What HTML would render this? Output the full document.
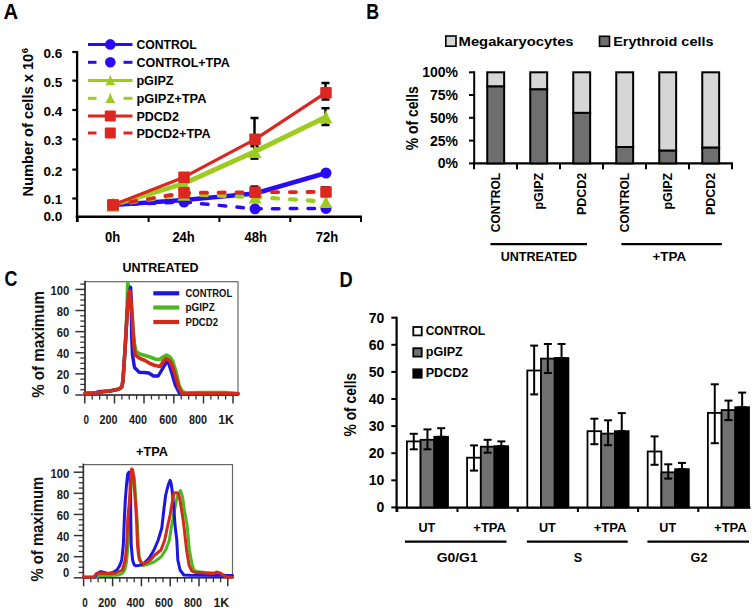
<!DOCTYPE html>
<html><head><meta charset="utf-8"><style>
html,body{margin:0;padding:0;background:#fff;width:754px;height:611px;overflow:hidden}
svg{display:block;font-family:"Liberation Sans", sans-serif}
</style></head><body>
<svg width="754" height="611" viewBox="0 0 754 611">
<rect width="754" height="611" fill="#fff"/>
<text x="3.6" y="18.6" font-size="21.8" font-weight="bold" fill="#000" text-anchor="start" textLength="14.6" lengthAdjust="spacingAndGlyphs" >A</text>
<text x="366.3" y="18.7" font-size="21.8" font-weight="bold" fill="#000" text-anchor="start" textLength="12.8" lengthAdjust="spacingAndGlyphs" >B</text>
<text x="4.4" y="286.4" font-size="21.8" font-weight="bold" fill="#000" text-anchor="start" textLength="12.9" lengthAdjust="spacingAndGlyphs" >C</text>
<text x="339.6" y="286.6" font-size="21.8" font-weight="bold" fill="#000" text-anchor="start" textLength="13.2" lengthAdjust="spacingAndGlyphs" >D</text>
<line x1="77.1" y1="51" x2="77.1" y2="222" stroke="#000" stroke-width="2.3" />
<line x1="75.7" y1="216.7" x2="362" y2="216.7" stroke="#000" stroke-width="2.4" />
<line x1="72.3" y1="52" x2="77.5" y2="52" stroke="#000" stroke-width="2.2" />
<line x1="72.3" y1="80.6" x2="77.5" y2="80.6" stroke="#000" stroke-width="2.2" />
<line x1="72.3" y1="110" x2="77.5" y2="110" stroke="#000" stroke-width="2.2" />
<line x1="72.3" y1="139.3" x2="77.5" y2="139.3" stroke="#000" stroke-width="2.2" />
<line x1="72.3" y1="169.6" x2="77.5" y2="169.6" stroke="#000" stroke-width="2.2" />
<line x1="72.3" y1="198.5" x2="77.5" y2="198.5" stroke="#000" stroke-width="2.2" />
<line x1="77.6" y1="216" x2="77.6" y2="222" stroke="#000" stroke-width="2" />
<line x1="148.6" y1="216" x2="148.6" y2="222" stroke="#000" stroke-width="2" />
<line x1="219.4" y1="216" x2="219.4" y2="222" stroke="#000" stroke-width="2" />
<line x1="290.3" y1="216" x2="290.3" y2="222" stroke="#000" stroke-width="2" />
<line x1="361" y1="216" x2="361" y2="222" stroke="#000" stroke-width="2" />
<text x="62.4" y="58.2" font-size="13.6" font-weight="bold" fill="#000" text-anchor="end" textLength="18.8" lengthAdjust="spacingAndGlyphs" >0.6</text>
<text x="62.4" y="86.60000000000001" font-size="13.6" font-weight="bold" fill="#000" text-anchor="end" textLength="18.8" lengthAdjust="spacingAndGlyphs" >0.5</text>
<text x="62.4" y="116.0" font-size="13.6" font-weight="bold" fill="#000" text-anchor="end" textLength="18.8" lengthAdjust="spacingAndGlyphs" >0.4</text>
<text x="62.4" y="145.39999999999998" font-size="13.6" font-weight="bold" fill="#000" text-anchor="end" textLength="18.8" lengthAdjust="spacingAndGlyphs" >0.3</text>
<text x="62.4" y="175.79999999999998" font-size="13.6" font-weight="bold" fill="#000" text-anchor="end" textLength="18.8" lengthAdjust="spacingAndGlyphs" >0.2</text>
<text x="62.4" y="204.0" font-size="13.6" font-weight="bold" fill="#000" text-anchor="end" textLength="18.8" lengthAdjust="spacingAndGlyphs" >0.1</text>
<text x="62.4" y="221.2" font-size="13.6" font-weight="bold" fill="#000" text-anchor="end" textLength="18.8" lengthAdjust="spacingAndGlyphs" >0.0</text>
<text x="112.5" y="241.7" font-size="14" font-weight="bold" fill="#000" text-anchor="middle" textLength="15.2" lengthAdjust="spacingAndGlyphs" >0h</text>
<text x="183.6" y="241.7" font-size="14" font-weight="bold" fill="#000" text-anchor="middle" textLength="22.4" lengthAdjust="spacingAndGlyphs" >24h</text>
<text x="255.7" y="241.7" font-size="14" font-weight="bold" fill="#000" text-anchor="middle" textLength="22.4" lengthAdjust="spacingAndGlyphs" >48h</text>
<text x="327" y="241.7" font-size="14" font-weight="bold" fill="#000" text-anchor="middle" textLength="22.4" lengthAdjust="spacingAndGlyphs" >72h</text>
<text x="33.4" y="196.5" font-size="15.3" font-weight="bold" transform="rotate(-90 33.4 196.5)" textLength="142.8" lengthAdjust="spacingAndGlyphs">Number of cells x 10</text>
<text x="28.3" y="53.2" font-size="9.5" font-weight="bold" fill="#000" text-anchor="start" transform="rotate(-90 28.3 53.2)" >6</text>
<polyline points="113.0,205.0 184.0,200.0 255.0,193.5 326.0,173.0" fill="none" stroke="#2a0cf4" stroke-width="4.6" stroke-linejoin="round" stroke-linecap="round" />
<circle cx="113" cy="205" r="5.5" fill="#2a0cf4"/>
<circle cx="184" cy="200" r="5.5" fill="#2a0cf4"/>
<circle cx="255" cy="193.5" r="5.5" fill="#2a0cf4"/>
<circle cx="326" cy="173" r="5.5" fill="#2a0cf4"/>
<polyline points="113.0,205.0 184.0,183.5 255.0,151.5 326.0,117.0" fill="none" stroke="#9dcb1e" stroke-width="4.8" stroke-linejoin="round" stroke-linecap="round" />
<line x1="254.5" y1="146.2" x2="254.5" y2="158.6" stroke="#000" stroke-width="2.5" />
<line x1="250.5" y1="146.2" x2="258.5" y2="146.2" stroke="#000" stroke-width="2.5" />
<line x1="250.5" y1="158.6" x2="258.5" y2="158.6" stroke="#000" stroke-width="2.5" />
<line x1="325.5" y1="108.2" x2="325.5" y2="125" stroke="#000" stroke-width="2.5" />
<line x1="321.5" y1="108.2" x2="329.5" y2="108.2" stroke="#000" stroke-width="2.5" />
<line x1="321.5" y1="125" x2="329.5" y2="125" stroke="#000" stroke-width="2.5" />
<path d="M113,197.5875 Q115.7,206.2825 119.75,211.4125 L106.25,211.4125 Q110.3,206.2825 113,197.5875Z" fill="#9dcb1e"/>
<path d="M184,176.0875 Q186.7,184.7825 190.75,189.9125 L177.25,189.9125 Q181.3,184.7825 184,176.0875Z" fill="#9dcb1e"/>
<path d="M255,144.0875 Q257.7,152.7825 261.75,157.9125 L248.25,157.9125 Q252.3,152.7825 255,144.0875Z" fill="#9dcb1e"/>
<path d="M326,109.5875 Q328.7,118.2825 332.75,123.4125 L319.25,123.4125 Q323.3,118.2825 326,109.5875Z" fill="#9dcb1e"/>
<polyline points="113.0,205.0 184.0,177.2 255.0,139.3 326.0,92.7" fill="none" stroke="#dc2720" stroke-width="3.2" stroke-linejoin="round" stroke-linecap="round" />
<line x1="254.5" y1="118" x2="254.5" y2="139" stroke="#000" stroke-width="2.5" />
<line x1="250.5" y1="118" x2="258.5" y2="118" stroke="#000" stroke-width="2.5" />
<line x1="250.5" y1="139" x2="258.5" y2="139" stroke="#000" stroke-width="2.5" />
<line x1="325.5" y1="83" x2="325.5" y2="99.5" stroke="#000" stroke-width="2.5" />
<line x1="321.5" y1="83" x2="329.5" y2="83" stroke="#000" stroke-width="2.5" />
<line x1="321.5" y1="99.5" x2="329.5" y2="99.5" stroke="#000" stroke-width="2.5" />
<rect x="107.25" y="199.25" width="11.5" height="11.5" rx="1" fill="#dc2720"/>
<rect x="178.25" y="171.45" width="11.5" height="11.5" rx="1" fill="#dc2720"/>
<rect x="249.25" y="133.55" width="11.5" height="11.5" rx="1" fill="#dc2720"/>
<rect x="320.25" y="86.95" width="11.5" height="11.5" rx="1" fill="#dc2720"/>
<polyline points="113.0,205.0 184.0,202.0 255.0,208.8 326.0,208.4" fill="none" stroke="#2a0cf4" stroke-width="3.5" stroke-linejoin="round" stroke-linecap="round" stroke-dasharray="6.50 11.30" stroke-dashoffset="0.35"/>
<circle cx="113" cy="205" r="5.5" fill="#2a0cf4"/>
<circle cx="184" cy="202" r="5.5" fill="#2a0cf4"/>
<circle cx="255" cy="208.8" r="5.5" fill="#2a0cf4"/>
<circle cx="326" cy="208.4" r="5.5" fill="#2a0cf4"/>
<polyline points="113.0,205.0 184.0,194.3 255.0,197.0 326.0,201.6" fill="none" stroke="#9dcb1e" stroke-width="4.2" stroke-linejoin="round" stroke-linecap="round" stroke-dasharray="5.80 12.00" stroke-dashoffset="0.00"/>
<path d="M113,197.5875 Q115.7,206.2825 119.75,211.4125 L106.25,211.4125 Q110.3,206.2825 113,197.5875Z" fill="#9dcb1e"/>
<path d="M184,186.88750000000002 Q186.7,195.5825 190.75,200.7125 L177.25,200.7125 Q181.3,195.5825 184,186.88750000000002Z" fill="#9dcb1e"/>
<path d="M255,189.5875 Q257.7,198.2825 261.75,203.4125 L248.25,203.4125 Q252.3,198.2825 255,189.5875Z" fill="#9dcb1e"/>
<path d="M326,194.1875 Q328.7,202.8825 332.75,208.0125 L319.25,208.0125 Q323.3,202.8825 326,194.1875Z" fill="#9dcb1e"/>
<polyline points="113.0,205.0 184.0,192.8 255.0,192.3 326.0,191.9" fill="none" stroke="#dc2720" stroke-width="3.8" stroke-linejoin="round" stroke-linecap="round" stroke-dasharray="6.20 11.60" stroke-dashoffset="0.20"/>
<line x1="254.5" y1="186.6" x2="254.5" y2="192" stroke="#000" stroke-width="2.5" />
<line x1="250.5" y1="186.6" x2="258.5" y2="186.6" stroke="#000" stroke-width="2.5" />
<line x1="250.5" y1="192" x2="258.5" y2="192" stroke="#000" stroke-width="2.5" />
<line x1="325.5" y1="187.3" x2="325.5" y2="192.5" stroke="#000" stroke-width="2.5" />
<line x1="321.5" y1="187.3" x2="329.5" y2="187.3" stroke="#000" stroke-width="2.5" />
<line x1="321.5" y1="192.5" x2="329.5" y2="192.5" stroke="#000" stroke-width="2.5" />
<rect x="107.25" y="199.25" width="11.5" height="11.5" rx="1" fill="#dc2720"/>
<rect x="178.25" y="187.05" width="11.5" height="11.5" rx="1" fill="#dc2720"/>
<rect x="249.25" y="186.55" width="11.5" height="11.5" rx="1" fill="#dc2720"/>
<rect x="320.25" y="186.15" width="11.5" height="11.5" rx="1" fill="#dc2720"/>
<line x1="88" y1="44.4" x2="132.5" y2="44.4" stroke="#2a0cf4" stroke-width="3" />
<circle cx="110.3" cy="44.4" r="5.3" fill="#2a0cf4"/>
<text x="136.4" y="49.199999999999996" font-size="13.2" font-weight="bold" fill="#000" text-anchor="start" textLength="60.4" lengthAdjust="spacingAndGlyphs" >CONTROL</text>
<line x1="88" y1="62.3" x2="96.5" y2="62.3" stroke="#2a0cf4" stroke-width="3" />
<line x1="123.5" y1="62.3" x2="132.5" y2="62.3" stroke="#2a0cf4" stroke-width="3" />
<circle cx="110.3" cy="62.3" r="5.3" fill="#2a0cf4"/>
<text x="136.4" y="67.1" font-size="13.2" font-weight="bold" fill="#000" text-anchor="start" textLength="93.3" lengthAdjust="spacingAndGlyphs" >CONTROL+TPA</text>
<line x1="88" y1="80.4" x2="132.5" y2="80.4" stroke="#9dcb1e" stroke-width="3" />
<path d="M110.3,74.65 Q112.3,81.35000000000001 115.3,85.15 L105.3,85.15 Q108.3,81.35000000000001 110.3,74.65Z" fill="#9dcb1e"/>
<text x="136.4" y="85.2" font-size="13.2" font-weight="bold" fill="#000" text-anchor="start" textLength="37.2" lengthAdjust="spacingAndGlyphs" >pGIPZ</text>
<line x1="88" y1="98.3" x2="96.5" y2="98.3" stroke="#9dcb1e" stroke-width="3" />
<line x1="123.5" y1="98.3" x2="132.5" y2="98.3" stroke="#9dcb1e" stroke-width="3" />
<path d="M110.3,92.55 Q112.3,99.25 115.3,103.05 L105.3,103.05 Q108.3,99.25 110.3,92.55Z" fill="#9dcb1e"/>
<text x="136.4" y="103.1" font-size="13.2" font-weight="bold" fill="#000" text-anchor="start" textLength="70.1" lengthAdjust="spacingAndGlyphs" >pGIPZ+TPA</text>
<line x1="88" y1="116" x2="132.5" y2="116" stroke="#dc2720" stroke-width="3" />
<rect x="104.8" y="110.5" width="11" height="11" rx="1" fill="#dc2720"/>
<text x="136.4" y="120.8" font-size="13.2" font-weight="bold" fill="#000" text-anchor="start" textLength="42.5" lengthAdjust="spacingAndGlyphs" >PDCD2</text>
<line x1="88" y1="133" x2="96.5" y2="133" stroke="#dc2720" stroke-width="3" />
<line x1="123.5" y1="133" x2="132.5" y2="133" stroke="#dc2720" stroke-width="3" />
<rect x="104.8" y="127.5" width="11" height="11" rx="1" fill="#dc2720"/>
<text x="136.4" y="137.8" font-size="13.2" font-weight="bold" fill="#000" text-anchor="start" textLength="74.3" lengthAdjust="spacingAndGlyphs" >PDCD2+TPA</text>
<rect x="445.8" y="36" width="10.2" height="10.2" fill="#d6d6d6" stroke="#000" stroke-width="1.6"/>
<text x="458.6" y="46.2" font-size="13.4" font-weight="bold" fill="#000" text-anchor="start" textLength="115" lengthAdjust="spacingAndGlyphs" >Megakaryocytes</text>
<rect x="599.5" y="36.3" width="10" height="10" fill="#6f6f6f" stroke="#000" stroke-width="1.6"/>
<text x="613.2" y="46.2" font-size="13.4" font-weight="bold" fill="#000" text-anchor="start" textLength="100.3" lengthAdjust="spacingAndGlyphs" >Erythroid cells</text>
<line x1="474.2" y1="71.6" x2="474.2" y2="164.5" stroke="#000" stroke-width="2" />
<line x1="469" y1="72.3" x2="475" y2="72.3" stroke="#000" stroke-width="2" />
<line x1="469" y1="95" x2="475" y2="95" stroke="#000" stroke-width="2" />
<line x1="469" y1="117.8" x2="475" y2="117.8" stroke="#000" stroke-width="2" />
<line x1="469" y1="140.6" x2="475" y2="140.6" stroke="#000" stroke-width="2" />
<line x1="469" y1="163.4" x2="475" y2="163.4" stroke="#000" stroke-width="2" />
<text x="458" y="77.3" font-size="14" font-weight="bold" fill="#000" text-anchor="end" >100%</text>
<text x="458" y="100" font-size="14" font-weight="bold" fill="#000" text-anchor="end" >75%</text>
<text x="458" y="122.8" font-size="14" font-weight="bold" fill="#000" text-anchor="end" >50%</text>
<text x="458" y="145.6" font-size="14" font-weight="bold" fill="#000" text-anchor="end" >25%</text>
<text x="458" y="168.4" font-size="14" font-weight="bold" fill="#000" text-anchor="end" >0%</text>
<line x1="473.2" y1="163.4" x2="733" y2="163.4" stroke="#000" stroke-width="2.2" />
<line x1="474" y1="163" x2="474" y2="169.2" stroke="#000" stroke-width="2" />
<line x1="517" y1="163" x2="517" y2="169.2" stroke="#000" stroke-width="2" />
<line x1="560" y1="163" x2="560" y2="169.2" stroke="#000" stroke-width="2" />
<line x1="603" y1="163" x2="603" y2="169.2" stroke="#000" stroke-width="2" />
<line x1="646" y1="163" x2="646" y2="169.2" stroke="#000" stroke-width="2" />
<line x1="689" y1="163" x2="689" y2="169.2" stroke="#000" stroke-width="2" />
<line x1="732" y1="163" x2="732" y2="169.2" stroke="#000" stroke-width="2" />
<rect x="487.25" y="72.3" width="16.9" height="14.200000000000003" fill="#d6d6d6" stroke="#000" stroke-width="2"/>
<rect x="487.25" y="86.5" width="16.9" height="76.9" fill="#6f6f6f" stroke="#000" stroke-width="2"/>
<rect x="530.25" y="72.3" width="16.9" height="17.10000000000001" fill="#d6d6d6" stroke="#000" stroke-width="2"/>
<rect x="530.25" y="89.4" width="16.9" height="74.0" fill="#6f6f6f" stroke="#000" stroke-width="2"/>
<rect x="573.25" y="72.3" width="16.9" height="40.60000000000001" fill="#d6d6d6" stroke="#000" stroke-width="2"/>
<rect x="573.25" y="112.9" width="16.9" height="50.5" fill="#6f6f6f" stroke="#000" stroke-width="2"/>
<rect x="616.25" y="72.3" width="16.9" height="74.7" fill="#d6d6d6" stroke="#000" stroke-width="2"/>
<rect x="616.25" y="147" width="16.9" height="16.400000000000006" fill="#6f6f6f" stroke="#000" stroke-width="2"/>
<rect x="659.25" y="72.3" width="16.9" height="78.39999999999999" fill="#d6d6d6" stroke="#000" stroke-width="2"/>
<rect x="659.25" y="150.7" width="16.9" height="12.700000000000017" fill="#6f6f6f" stroke="#000" stroke-width="2"/>
<rect x="702.25" y="72.3" width="16.9" height="75.39999999999999" fill="#d6d6d6" stroke="#000" stroke-width="2"/>
<rect x="702.25" y="147.7" width="16.9" height="15.700000000000017" fill="#6f6f6f" stroke="#000" stroke-width="2"/>
<text x="500.3" y="172.8" font-size="12.4" font-weight="bold" fill="#000" text-anchor="end" textLength="59.4" lengthAdjust="spacingAndGlyphs" transform="rotate(-90 500.3 172.8)" >CONTROL</text>
<text x="543.3000000000001" y="172.8" font-size="12.4" font-weight="bold" fill="#000" text-anchor="end" textLength="36.8" lengthAdjust="spacingAndGlyphs" transform="rotate(-90 543.3000000000001 172.8)" >pGIPZ</text>
<text x="586.3000000000001" y="172.8" font-size="12.4" font-weight="bold" fill="#000" text-anchor="end" textLength="42.3" lengthAdjust="spacingAndGlyphs" transform="rotate(-90 586.3000000000001 172.8)" >PDCD2</text>
<text x="629.3000000000001" y="172.8" font-size="12.4" font-weight="bold" fill="#000" text-anchor="end" textLength="59.4" lengthAdjust="spacingAndGlyphs" transform="rotate(-90 629.3000000000001 172.8)" >CONTROL</text>
<text x="672.3000000000001" y="172.8" font-size="12.4" font-weight="bold" fill="#000" text-anchor="end" textLength="36.8" lengthAdjust="spacingAndGlyphs" transform="rotate(-90 672.3000000000001 172.8)" >pGIPZ</text>
<text x="715.3000000000001" y="172.8" font-size="12.4" font-weight="bold" fill="#000" text-anchor="end" textLength="42.3" lengthAdjust="spacingAndGlyphs" transform="rotate(-90 715.3000000000001 172.8)" >PDCD2</text>
<line x1="490.5" y1="244.2" x2="587" y2="244.2" stroke="#000" stroke-width="2.2" />
<line x1="621.4" y1="244.2" x2="721.8" y2="244.2" stroke="#000" stroke-width="2.2" />
<text x="538.9" y="260.8" font-size="13.2" font-weight="bold" fill="#000" text-anchor="middle" textLength="76.4" lengthAdjust="spacingAndGlyphs" >UNTREATED</text>
<text x="669.3" y="260.8" font-size="13.2" font-weight="bold" fill="#000" text-anchor="middle" textLength="33.5" lengthAdjust="spacingAndGlyphs" >+TPA</text>
<line x1="396.6" y1="316.8" x2="396.6" y2="512" stroke="#000" stroke-width="2.2" />
<line x1="391.3" y1="507.4" x2="397" y2="507.4" stroke="#000" stroke-width="2" />
<text x="384.3" y="512.3" font-size="14" font-weight="bold" fill="#000" text-anchor="end" >0</text>
<line x1="391.3" y1="480.29999999999995" x2="397" y2="480.29999999999995" stroke="#000" stroke-width="2" />
<text x="384.3" y="485.19999999999993" font-size="14" font-weight="bold" fill="#000" text-anchor="end" >10</text>
<line x1="391.3" y1="453.2" x2="397" y2="453.2" stroke="#000" stroke-width="2" />
<text x="384.3" y="458.09999999999997" font-size="14" font-weight="bold" fill="#000" text-anchor="end" >20</text>
<line x1="391.3" y1="426.09999999999997" x2="397" y2="426.09999999999997" stroke="#000" stroke-width="2" />
<text x="384.3" y="430.99999999999994" font-size="14" font-weight="bold" fill="#000" text-anchor="end" >30</text>
<line x1="391.3" y1="399.0" x2="397" y2="399.0" stroke="#000" stroke-width="2" />
<text x="384.3" y="403.9" font-size="14" font-weight="bold" fill="#000" text-anchor="end" >40</text>
<line x1="391.3" y1="371.9" x2="397" y2="371.9" stroke="#000" stroke-width="2" />
<text x="384.3" y="376.79999999999995" font-size="14" font-weight="bold" fill="#000" text-anchor="end" >50</text>
<line x1="391.3" y1="344.79999999999995" x2="397" y2="344.79999999999995" stroke="#000" stroke-width="2" />
<text x="384.3" y="349.69999999999993" font-size="14" font-weight="bold" fill="#000" text-anchor="end" >60</text>
<line x1="391.3" y1="317.69999999999993" x2="397" y2="317.69999999999993" stroke="#000" stroke-width="2" />
<text x="384.3" y="322.5999999999999" font-size="14" font-weight="bold" fill="#000" text-anchor="end" >70</text>
<line x1="395.6" y1="507.6" x2="750.5" y2="507.6" stroke="#000" stroke-width="2.2" />
<line x1="397.3" y1="507" x2="397.3" y2="512" stroke="#000" stroke-width="2" />
<line x1="457.5" y1="507" x2="457.5" y2="512" stroke="#000" stroke-width="2" />
<line x1="517.7" y1="507" x2="517.7" y2="512" stroke="#000" stroke-width="2" />
<line x1="577.9000000000001" y1="507" x2="577.9000000000001" y2="512" stroke="#000" stroke-width="2" />
<line x1="638.1" y1="507" x2="638.1" y2="512" stroke="#000" stroke-width="2" />
<line x1="698.3" y1="507" x2="698.3" y2="512" stroke="#000" stroke-width="2" />
<rect x="406.9" y="441.4" width="13.7" height="66.0" fill="#fff" stroke="#000" stroke-width="1.8"/>
<rect x="420.59999999999997" y="439.8" width="13.7" height="67.59999999999997" fill="#717171" stroke="#000" stroke-width="1.8"/>
<rect x="434.29999999999995" y="436.8" width="13.7" height="70.59999999999997" fill="#000" stroke="#000" stroke-width="1.8"/>
<line x1="413.75" y1="433.8" x2="413.75" y2="449.3" stroke="#000" stroke-width="2" />
<line x1="409.75" y1="433.8" x2="417.75" y2="433.8" stroke="#000" stroke-width="2" />
<line x1="409.75" y1="449.3" x2="417.75" y2="449.3" stroke="#000" stroke-width="2" />
<line x1="427.45" y1="429.4" x2="427.45" y2="449.3" stroke="#000" stroke-width="2" />
<line x1="423.45" y1="429.4" x2="431.45" y2="429.4" stroke="#000" stroke-width="2" />
<line x1="423.45" y1="449.3" x2="431.45" y2="449.3" stroke="#000" stroke-width="2" />
<line x1="441.15" y1="428.2" x2="441.15" y2="436.8" stroke="#000" stroke-width="2" />
<line x1="437.15" y1="428.2" x2="445.15" y2="428.2" stroke="#000" stroke-width="2" />
<line x1="437.15" y1="436.8" x2="445.15" y2="436.8" stroke="#000" stroke-width="2" />
<rect x="467.09999999999997" y="457.7" width="13.7" height="49.69999999999999" fill="#fff" stroke="#000" stroke-width="1.8"/>
<rect x="480.79999999999995" y="446.7" width="13.7" height="60.69999999999999" fill="#717171" stroke="#000" stroke-width="1.8"/>
<rect x="494.49999999999994" y="446.2" width="13.7" height="61.19999999999999" fill="#000" stroke="#000" stroke-width="1.8"/>
<line x1="473.95" y1="445.4" x2="473.95" y2="470.6" stroke="#000" stroke-width="2" />
<line x1="469.95" y1="445.4" x2="477.95" y2="445.4" stroke="#000" stroke-width="2" />
<line x1="469.95" y1="470.6" x2="477.95" y2="470.6" stroke="#000" stroke-width="2" />
<line x1="487.65" y1="439.8" x2="487.65" y2="452.7" stroke="#000" stroke-width="2" />
<line x1="483.65" y1="439.8" x2="491.65" y2="439.8" stroke="#000" stroke-width="2" />
<line x1="483.65" y1="452.7" x2="491.65" y2="452.7" stroke="#000" stroke-width="2" />
<line x1="501.34999999999997" y1="441.4" x2="501.34999999999997" y2="446.2" stroke="#000" stroke-width="2" />
<line x1="497.34999999999997" y1="441.4" x2="505.34999999999997" y2="441.4" stroke="#000" stroke-width="2" />
<line x1="497.34999999999997" y1="446.2" x2="505.34999999999997" y2="446.2" stroke="#000" stroke-width="2" />
<rect x="527.3" y="370.5" width="13.7" height="136.89999999999998" fill="#fff" stroke="#000" stroke-width="1.8"/>
<rect x="541.0" y="358.6" width="13.7" height="148.79999999999995" fill="#717171" stroke="#000" stroke-width="1.8"/>
<rect x="554.6999999999999" y="358" width="13.7" height="149.39999999999998" fill="#000" stroke="#000" stroke-width="1.8"/>
<line x1="534.15" y1="345.6" x2="534.15" y2="394.4" stroke="#000" stroke-width="2" />
<line x1="530.15" y1="345.6" x2="538.15" y2="345.6" stroke="#000" stroke-width="2" />
<line x1="530.15" y1="394.4" x2="538.15" y2="394.4" stroke="#000" stroke-width="2" />
<line x1="547.85" y1="344" x2="547.85" y2="373" stroke="#000" stroke-width="2" />
<line x1="543.85" y1="344" x2="551.85" y2="344" stroke="#000" stroke-width="2" />
<line x1="543.85" y1="373" x2="551.85" y2="373" stroke="#000" stroke-width="2" />
<line x1="561.55" y1="344" x2="561.55" y2="358" stroke="#000" stroke-width="2" />
<line x1="557.55" y1="344" x2="565.55" y2="344" stroke="#000" stroke-width="2" />
<line x1="557.55" y1="358" x2="565.55" y2="358" stroke="#000" stroke-width="2" />
<rect x="587.5" y="431.2" width="13.7" height="76.19999999999999" fill="#fff" stroke="#000" stroke-width="1.8"/>
<rect x="601.2" y="433.6" width="13.7" height="73.79999999999995" fill="#717171" stroke="#000" stroke-width="1.8"/>
<rect x="614.9" y="431.2" width="13.7" height="76.19999999999999" fill="#000" stroke="#000" stroke-width="1.8"/>
<line x1="594.35" y1="418.7" x2="594.35" y2="444.2" stroke="#000" stroke-width="2" />
<line x1="590.35" y1="418.7" x2="598.35" y2="418.7" stroke="#000" stroke-width="2" />
<line x1="590.35" y1="444.2" x2="598.35" y2="444.2" stroke="#000" stroke-width="2" />
<line x1="608.0500000000001" y1="420.3" x2="608.0500000000001" y2="445.2" stroke="#000" stroke-width="2" />
<line x1="604.0500000000001" y1="420.3" x2="612.0500000000001" y2="420.3" stroke="#000" stroke-width="2" />
<line x1="604.0500000000001" y1="445.2" x2="612.0500000000001" y2="445.2" stroke="#000" stroke-width="2" />
<line x1="621.75" y1="413.1" x2="621.75" y2="431.2" stroke="#000" stroke-width="2" />
<line x1="617.75" y1="413.1" x2="625.75" y2="413.1" stroke="#000" stroke-width="2" />
<line x1="617.75" y1="431.2" x2="625.75" y2="431.2" stroke="#000" stroke-width="2" />
<rect x="647.7" y="451.5" width="13.7" height="55.89999999999998" fill="#fff" stroke="#000" stroke-width="1.8"/>
<rect x="661.4000000000001" y="472.3" width="13.7" height="35.099999999999966" fill="#717171" stroke="#000" stroke-width="1.8"/>
<rect x="675.1" y="469.2" width="13.7" height="38.19999999999999" fill="#000" stroke="#000" stroke-width="1.8"/>
<line x1="654.5500000000001" y1="436.4" x2="654.5500000000001" y2="464.8" stroke="#000" stroke-width="2" />
<line x1="650.5500000000001" y1="436.4" x2="658.5500000000001" y2="436.4" stroke="#000" stroke-width="2" />
<line x1="650.5500000000001" y1="464.8" x2="658.5500000000001" y2="464.8" stroke="#000" stroke-width="2" />
<line x1="668.2500000000001" y1="464.3" x2="668.2500000000001" y2="478.6" stroke="#000" stroke-width="2" />
<line x1="664.2500000000001" y1="464.3" x2="672.2500000000001" y2="464.3" stroke="#000" stroke-width="2" />
<line x1="664.2500000000001" y1="478.6" x2="672.2500000000001" y2="478.6" stroke="#000" stroke-width="2" />
<line x1="681.95" y1="462.9" x2="681.95" y2="469.2" stroke="#000" stroke-width="2" />
<line x1="677.95" y1="462.9" x2="685.95" y2="462.9" stroke="#000" stroke-width="2" />
<line x1="677.95" y1="469.2" x2="685.95" y2="469.2" stroke="#000" stroke-width="2" />
<rect x="707.9" y="412.9" width="13.7" height="94.5" fill="#fff" stroke="#000" stroke-width="1.8"/>
<rect x="721.6" y="410.1" width="13.7" height="97.29999999999995" fill="#717171" stroke="#000" stroke-width="1.8"/>
<rect x="735.3" y="407.2" width="13.7" height="100.19999999999999" fill="#000" stroke="#000" stroke-width="1.8"/>
<line x1="714.75" y1="384.3" x2="714.75" y2="443.2" stroke="#000" stroke-width="2" />
<line x1="710.75" y1="384.3" x2="718.75" y2="384.3" stroke="#000" stroke-width="2" />
<line x1="710.75" y1="443.2" x2="718.75" y2="443.2" stroke="#000" stroke-width="2" />
<line x1="728.45" y1="400.6" x2="728.45" y2="420.1" stroke="#000" stroke-width="2" />
<line x1="724.45" y1="400.6" x2="732.45" y2="400.6" stroke="#000" stroke-width="2" />
<line x1="724.45" y1="420.1" x2="732.45" y2="420.1" stroke="#000" stroke-width="2" />
<line x1="742.15" y1="392.6" x2="742.15" y2="407.2" stroke="#000" stroke-width="2" />
<line x1="738.15" y1="392.6" x2="746.15" y2="392.6" stroke="#000" stroke-width="2" />
<line x1="738.15" y1="407.2" x2="746.15" y2="407.2" stroke="#000" stroke-width="2" />
<text x="426.9" y="531.8" font-size="12.6" font-weight="bold" fill="#000" text-anchor="middle" >UT</text>
<text x="489.59999999999997" y="531.8" font-size="12.6" font-weight="bold" fill="#000" text-anchor="middle" textLength="32.6" lengthAdjust="spacingAndGlyphs" >+TPA</text>
<text x="547.3" y="531.8" font-size="12.6" font-weight="bold" fill="#000" text-anchor="middle" >UT</text>
<text x="610.0" y="531.8" font-size="12.6" font-weight="bold" fill="#000" text-anchor="middle" textLength="32.6" lengthAdjust="spacingAndGlyphs" >+TPA</text>
<text x="667.7" y="531.8" font-size="12.6" font-weight="bold" fill="#000" text-anchor="middle" >UT</text>
<text x="730.4" y="531.8" font-size="12.6" font-weight="bold" fill="#000" text-anchor="middle" textLength="32.6" lengthAdjust="spacingAndGlyphs" >+TPA</text>
<line x1="404.9" y1="541.6" x2="506.5" y2="541.6" stroke="#000" stroke-width="2.4" />
<line x1="526.9" y1="541.6" x2="627.7" y2="541.6" stroke="#000" stroke-width="2.4" />
<line x1="647.4" y1="541.6" x2="749" y2="541.6" stroke="#000" stroke-width="2.4" />
<text x="457.2" y="562.3" font-size="12.6" font-weight="bold" fill="#000" text-anchor="middle" textLength="41" lengthAdjust="spacingAndGlyphs" >G0/G1</text>
<text x="578" y="562.3" font-size="12.6" font-weight="bold" fill="#000" text-anchor="middle" >S</text>
<text x="699" y="562.3" font-size="12.6" font-weight="bold" fill="#000" text-anchor="middle" >G2</text>
<rect x="413.3" y="327.0" width="8.4" height="8.4" fill="#fff" stroke="#000" stroke-width="1.8"/>
<text x="425.7" y="335.1" font-size="12.6" font-weight="bold" fill="#000" text-anchor="start" textLength="59.4" lengthAdjust="spacingAndGlyphs" >CONTROL</text>
<rect x="413.3" y="348.2" width="8.4" height="8.4" fill="#717171" stroke="#000" stroke-width="1.8"/>
<text x="425.7" y="356.3" font-size="12.6" font-weight="bold" fill="#000" text-anchor="start" >pGIPZ</text>
<rect x="413.3" y="369.3" width="8.4" height="8.4" fill="#000" stroke="#000" stroke-width="1.8"/>
<text x="425.7" y="377.40000000000003" font-size="12.6" font-weight="bold" fill="#000" text-anchor="start" textLength="42.7" lengthAdjust="spacingAndGlyphs" >PDCD2</text>
<text x="356" y="436.4" font-size="15.8" font-weight="bold" transform="rotate(-90 356 436.4)" textLength="63.6" lengthAdjust="spacingAndGlyphs">% of cells</text>
<text x="417.8" y="150.2" font-size="15.8" font-weight="bold" transform="rotate(-90 417.8 150.2)" textLength="64" lengthAdjust="spacingAndGlyphs">% of cells</text>
<rect x="85" y="281.7" width="153" height="113.30000000000001" fill="none" stroke="#666" stroke-width="1.2"/>
<line x1="85" y1="280.7" x2="85" y2="396" stroke="#333" stroke-width="1.6" />
<line x1="84" y1="395" x2="238" y2="395" stroke="#333" stroke-width="1.6" />
<line x1="75.4" y1="395.0" x2="85" y2="395.0" stroke="#333" stroke-width="1.5" />
<line x1="80.3" y1="389.72" x2="85" y2="389.72" stroke="#333" stroke-width="1.3" />
<line x1="80.3" y1="384.44" x2="85" y2="384.44" stroke="#333" stroke-width="1.3" />
<line x1="80.3" y1="379.15999999999997" x2="85" y2="379.15999999999997" stroke="#333" stroke-width="1.3" />
<line x1="75.4" y1="373.88" x2="85" y2="373.88" stroke="#333" stroke-width="1.5" />
<line x1="80.3" y1="368.6" x2="85" y2="368.6" stroke="#333" stroke-width="1.3" />
<line x1="80.3" y1="363.32" x2="85" y2="363.32" stroke="#333" stroke-width="1.3" />
<line x1="80.3" y1="358.03999999999996" x2="85" y2="358.03999999999996" stroke="#333" stroke-width="1.3" />
<line x1="75.4" y1="352.76" x2="85" y2="352.76" stroke="#333" stroke-width="1.5" />
<line x1="80.3" y1="347.48" x2="85" y2="347.48" stroke="#333" stroke-width="1.3" />
<line x1="80.3" y1="342.2" x2="85" y2="342.2" stroke="#333" stroke-width="1.3" />
<line x1="80.3" y1="336.91999999999996" x2="85" y2="336.91999999999996" stroke="#333" stroke-width="1.3" />
<line x1="75.4" y1="331.64" x2="85" y2="331.64" stroke="#333" stroke-width="1.5" />
<line x1="80.3" y1="326.36" x2="85" y2="326.36" stroke="#333" stroke-width="1.3" />
<line x1="80.3" y1="321.08" x2="85" y2="321.08" stroke="#333" stroke-width="1.3" />
<line x1="80.3" y1="315.79999999999995" x2="85" y2="315.79999999999995" stroke="#333" stroke-width="1.3" />
<line x1="75.4" y1="310.52" x2="85" y2="310.52" stroke="#333" stroke-width="1.5" />
<line x1="80.3" y1="305.24" x2="85" y2="305.24" stroke="#333" stroke-width="1.3" />
<line x1="80.3" y1="299.96" x2="85" y2="299.96" stroke="#333" stroke-width="1.3" />
<line x1="80.3" y1="294.67999999999995" x2="85" y2="294.67999999999995" stroke="#333" stroke-width="1.3" />
<line x1="75.4" y1="289.4" x2="85" y2="289.4" stroke="#333" stroke-width="1.5" />
<line x1="80.3" y1="284.12" x2="85" y2="284.12" stroke="#333" stroke-width="1.3" />
<text x="69.2" y="294.9" font-size="12.3" font-weight="bold" fill="#1a1a1a" text-anchor="end" textLength="18.75" lengthAdjust="spacingAndGlyphs" >100</text>
<text x="69.2" y="316.02" font-size="12.3" font-weight="bold" fill="#1a1a1a" text-anchor="end" textLength="12.5" lengthAdjust="spacingAndGlyphs" >80</text>
<text x="69.2" y="337.14" font-size="12.3" font-weight="bold" fill="#1a1a1a" text-anchor="end" textLength="12.5" lengthAdjust="spacingAndGlyphs" >60</text>
<text x="69.2" y="358.26" font-size="12.3" font-weight="bold" fill="#1a1a1a" text-anchor="end" textLength="12.5" lengthAdjust="spacingAndGlyphs" >40</text>
<text x="69.2" y="379.38" font-size="12.3" font-weight="bold" fill="#1a1a1a" text-anchor="end" textLength="12.5" lengthAdjust="spacingAndGlyphs" >20</text>
<text x="69.2" y="393.7" font-size="12.3" font-weight="bold" fill="#1a1a1a" text-anchor="end" textLength="6.2" lengthAdjust="spacingAndGlyphs" >0</text>
<line x1="84.8" y1="395" x2="84.8" y2="403.5" stroke="#333" stroke-width="1.5" />
<line x1="92.225" y1="395" x2="92.225" y2="399.5" stroke="#333" stroke-width="1.3" />
<line x1="99.65" y1="395" x2="99.65" y2="399.5" stroke="#333" stroke-width="1.3" />
<line x1="107.075" y1="395" x2="107.075" y2="399.5" stroke="#333" stroke-width="1.3" />
<line x1="114.5" y1="395" x2="114.5" y2="403.5" stroke="#333" stroke-width="1.5" />
<line x1="121.875" y1="395" x2="121.875" y2="399.5" stroke="#333" stroke-width="1.3" />
<line x1="129.25" y1="395" x2="129.25" y2="399.5" stroke="#333" stroke-width="1.3" />
<line x1="136.625" y1="395" x2="136.625" y2="399.5" stroke="#333" stroke-width="1.3" />
<line x1="144.0" y1="395" x2="144.0" y2="403.5" stroke="#333" stroke-width="1.5" />
<line x1="151.45" y1="395" x2="151.45" y2="399.5" stroke="#333" stroke-width="1.3" />
<line x1="158.9" y1="395" x2="158.9" y2="399.5" stroke="#333" stroke-width="1.3" />
<line x1="166.35000000000002" y1="395" x2="166.35000000000002" y2="399.5" stroke="#333" stroke-width="1.3" />
<line x1="173.8" y1="395" x2="173.8" y2="403.5" stroke="#333" stroke-width="1.5" />
<line x1="181.22500000000002" y1="395" x2="181.22500000000002" y2="399.5" stroke="#333" stroke-width="1.3" />
<line x1="188.65" y1="395" x2="188.65" y2="399.5" stroke="#333" stroke-width="1.3" />
<line x1="196.075" y1="395" x2="196.075" y2="399.5" stroke="#333" stroke-width="1.3" />
<line x1="203.5" y1="395" x2="203.5" y2="403.5" stroke="#333" stroke-width="1.5" />
<line x1="210.875" y1="395" x2="210.875" y2="399.5" stroke="#333" stroke-width="1.3" />
<line x1="218.25" y1="395" x2="218.25" y2="399.5" stroke="#333" stroke-width="1.3" />
<line x1="225.625" y1="395" x2="225.625" y2="399.5" stroke="#333" stroke-width="1.3" />
<line x1="233.0" y1="395" x2="233.0" y2="403.5" stroke="#333" stroke-width="1.5" />
<text x="86.3" y="423.7" font-size="12.3" font-weight="bold" fill="#1a1a1a" text-anchor="middle" textLength="5.5" lengthAdjust="spacingAndGlyphs" >0</text>
<text x="108.6" y="423.7" font-size="12.3" font-weight="bold" fill="#1a1a1a" text-anchor="middle" textLength="18" lengthAdjust="spacingAndGlyphs" >200</text>
<text x="137.9" y="423.7" font-size="12.3" font-weight="bold" fill="#1a1a1a" text-anchor="middle" textLength="18" lengthAdjust="spacingAndGlyphs" >400</text>
<text x="168.3" y="423.7" font-size="12.3" font-weight="bold" fill="#1a1a1a" text-anchor="middle" textLength="18" lengthAdjust="spacingAndGlyphs" >600</text>
<text x="197.9" y="423.7" font-size="12.3" font-weight="bold" fill="#1a1a1a" text-anchor="middle" textLength="18" lengthAdjust="spacingAndGlyphs" >800</text>
<text x="226.1" y="423.7" font-size="12.3" font-weight="bold" fill="#1a1a1a" text-anchor="middle" textLength="15.7" lengthAdjust="spacingAndGlyphs" >1K</text>
<text x="44" y="397.8" font-size="16.3" font-weight="bold" fill="#111" transform="rotate(-90 44 397.8)" textLength="106.80000000000001" lengthAdjust="spacingAndGlyphs">% of maximum</text>
<rect x="83.4" y="464.6" width="149.1" height="113.19999999999993" fill="none" stroke="#666" stroke-width="1.2"/>
<line x1="83.4" y1="463.6" x2="83.4" y2="578.8" stroke="#333" stroke-width="1.6" />
<line x1="82.4" y1="577.8" x2="232.5" y2="577.8" stroke="#333" stroke-width="1.6" />
<line x1="73.80000000000001" y1="577.8" x2="83.4" y2="577.8" stroke="#333" stroke-width="1.5" />
<line x1="78.7" y1="572.52" x2="83.4" y2="572.52" stroke="#333" stroke-width="1.3" />
<line x1="78.7" y1="567.24" x2="83.4" y2="567.24" stroke="#333" stroke-width="1.3" />
<line x1="78.7" y1="561.9599999999999" x2="83.4" y2="561.9599999999999" stroke="#333" stroke-width="1.3" />
<line x1="73.80000000000001" y1="556.68" x2="83.4" y2="556.68" stroke="#333" stroke-width="1.5" />
<line x1="78.7" y1="551.4" x2="83.4" y2="551.4" stroke="#333" stroke-width="1.3" />
<line x1="78.7" y1="546.12" x2="83.4" y2="546.12" stroke="#333" stroke-width="1.3" />
<line x1="78.7" y1="540.8399999999999" x2="83.4" y2="540.8399999999999" stroke="#333" stroke-width="1.3" />
<line x1="73.80000000000001" y1="535.56" x2="83.4" y2="535.56" stroke="#333" stroke-width="1.5" />
<line x1="78.7" y1="530.28" x2="83.4" y2="530.28" stroke="#333" stroke-width="1.3" />
<line x1="78.7" y1="525.0" x2="83.4" y2="525.0" stroke="#333" stroke-width="1.3" />
<line x1="78.7" y1="519.72" x2="83.4" y2="519.72" stroke="#333" stroke-width="1.3" />
<line x1="73.80000000000001" y1="514.4399999999999" x2="83.4" y2="514.4399999999999" stroke="#333" stroke-width="1.5" />
<line x1="78.7" y1="509.15999999999997" x2="83.4" y2="509.15999999999997" stroke="#333" stroke-width="1.3" />
<line x1="78.7" y1="503.88" x2="83.4" y2="503.88" stroke="#333" stroke-width="1.3" />
<line x1="78.7" y1="498.59999999999997" x2="83.4" y2="498.59999999999997" stroke="#333" stroke-width="1.3" />
<line x1="73.80000000000001" y1="493.32" x2="83.4" y2="493.32" stroke="#333" stroke-width="1.5" />
<line x1="78.7" y1="488.03999999999996" x2="83.4" y2="488.03999999999996" stroke="#333" stroke-width="1.3" />
<line x1="78.7" y1="482.76" x2="83.4" y2="482.76" stroke="#333" stroke-width="1.3" />
<line x1="78.7" y1="477.48" x2="83.4" y2="477.48" stroke="#333" stroke-width="1.3" />
<line x1="73.80000000000001" y1="472.2" x2="83.4" y2="472.2" stroke="#333" stroke-width="1.5" />
<line x1="78.7" y1="466.92" x2="83.4" y2="466.92" stroke="#333" stroke-width="1.3" />
<text x="69.2" y="477.7" font-size="12.3" font-weight="bold" fill="#1a1a1a" text-anchor="end" textLength="18.75" lengthAdjust="spacingAndGlyphs" >100</text>
<text x="69.2" y="498.82" font-size="12.3" font-weight="bold" fill="#1a1a1a" text-anchor="end" textLength="12.5" lengthAdjust="spacingAndGlyphs" >80</text>
<text x="69.2" y="519.9399999999999" font-size="12.3" font-weight="bold" fill="#1a1a1a" text-anchor="end" textLength="12.5" lengthAdjust="spacingAndGlyphs" >60</text>
<text x="69.2" y="541.06" font-size="12.3" font-weight="bold" fill="#1a1a1a" text-anchor="end" textLength="12.5" lengthAdjust="spacingAndGlyphs" >40</text>
<text x="69.2" y="562.18" font-size="12.3" font-weight="bold" fill="#1a1a1a" text-anchor="end" textLength="12.5" lengthAdjust="spacingAndGlyphs" >20</text>
<text x="69.2" y="576.5" font-size="12.3" font-weight="bold" fill="#1a1a1a" text-anchor="end" textLength="6.2" lengthAdjust="spacingAndGlyphs" >0</text>
<line x1="83.6" y1="577.8" x2="83.6" y2="586.3" stroke="#333" stroke-width="1.5" />
<line x1="90.85" y1="577.8" x2="90.85" y2="582.3" stroke="#333" stroke-width="1.3" />
<line x1="98.1" y1="577.8" x2="98.1" y2="582.3" stroke="#333" stroke-width="1.3" />
<line x1="105.35" y1="577.8" x2="105.35" y2="582.3" stroke="#333" stroke-width="1.3" />
<line x1="112.6" y1="577.8" x2="112.6" y2="586.3" stroke="#333" stroke-width="1.5" />
<line x1="119.8" y1="577.8" x2="119.8" y2="582.3" stroke="#333" stroke-width="1.3" />
<line x1="127.0" y1="577.8" x2="127.0" y2="582.3" stroke="#333" stroke-width="1.3" />
<line x1="134.2" y1="577.8" x2="134.2" y2="582.3" stroke="#333" stroke-width="1.3" />
<line x1="141.4" y1="577.8" x2="141.4" y2="586.3" stroke="#333" stroke-width="1.5" />
<line x1="148.6" y1="577.8" x2="148.6" y2="582.3" stroke="#333" stroke-width="1.3" />
<line x1="155.8" y1="577.8" x2="155.8" y2="582.3" stroke="#333" stroke-width="1.3" />
<line x1="163.0" y1="577.8" x2="163.0" y2="582.3" stroke="#333" stroke-width="1.3" />
<line x1="170.2" y1="577.8" x2="170.2" y2="586.3" stroke="#333" stroke-width="1.5" />
<line x1="177.39999999999998" y1="577.8" x2="177.39999999999998" y2="582.3" stroke="#333" stroke-width="1.3" />
<line x1="184.6" y1="577.8" x2="184.6" y2="582.3" stroke="#333" stroke-width="1.3" />
<line x1="191.8" y1="577.8" x2="191.8" y2="582.3" stroke="#333" stroke-width="1.3" />
<line x1="199.0" y1="577.8" x2="199.0" y2="586.3" stroke="#333" stroke-width="1.5" />
<line x1="206.2" y1="577.8" x2="206.2" y2="582.3" stroke="#333" stroke-width="1.3" />
<line x1="213.4" y1="577.8" x2="213.4" y2="582.3" stroke="#333" stroke-width="1.3" />
<line x1="220.60000000000002" y1="577.8" x2="220.60000000000002" y2="582.3" stroke="#333" stroke-width="1.3" />
<line x1="227.8" y1="577.8" x2="227.8" y2="586.3" stroke="#333" stroke-width="1.5" />
<text x="85.1" y="606.8" font-size="12.3" font-weight="bold" fill="#1a1a1a" text-anchor="middle" textLength="5.5" lengthAdjust="spacingAndGlyphs" >0</text>
<text x="107.2" y="606.8" font-size="12.3" font-weight="bold" fill="#1a1a1a" text-anchor="middle" textLength="18" lengthAdjust="spacingAndGlyphs" >200</text>
<text x="135.6" y="606.8" font-size="12.3" font-weight="bold" fill="#1a1a1a" text-anchor="middle" textLength="18" lengthAdjust="spacingAndGlyphs" >400</text>
<text x="164" y="606.8" font-size="12.3" font-weight="bold" fill="#1a1a1a" text-anchor="middle" textLength="18" lengthAdjust="spacingAndGlyphs" >600</text>
<text x="193.1" y="606.8" font-size="12.3" font-weight="bold" fill="#1a1a1a" text-anchor="middle" textLength="18" lengthAdjust="spacingAndGlyphs" >800</text>
<text x="221.3" y="606.8" font-size="12.3" font-weight="bold" fill="#1a1a1a" text-anchor="middle" textLength="15.7" lengthAdjust="spacingAndGlyphs" >1K</text>
<text x="43.3" y="581.5" font-size="16.3" font-weight="bold" fill="#111" transform="rotate(-90 43.3 581.5)" textLength="104.69999999999999" lengthAdjust="spacingAndGlyphs">% of maximum</text>
<text x="160.6" y="272.3" font-size="13.6" font-weight="bold" fill="#000" text-anchor="middle" textLength="76" lengthAdjust="spacingAndGlyphs" >UNTREATED</text>
<text x="151.9" y="456.3" font-size="13.3" font-weight="bold" fill="#000" text-anchor="middle" textLength="31.8" lengthAdjust="spacingAndGlyphs" >+TPA</text>
<line x1="153.3" y1="293.3" x2="179.2" y2="293.3" stroke="#1d14e6" stroke-width="4.2" />
<text x="185.5" y="297.0" font-size="11.4" font-weight="bold" fill="#111" text-anchor="start" textLength="46.7" lengthAdjust="spacingAndGlyphs" >CONTROL</text>
<line x1="153.3" y1="307.5" x2="179.2" y2="307.5" stroke="#4bb81e" stroke-width="4.2" />
<text x="185.5" y="311.2" font-size="11.4" font-weight="bold" fill="#111" text-anchor="start" textLength="29.3" lengthAdjust="spacingAndGlyphs" >pGIPZ</text>
<line x1="153.3" y1="322" x2="179.2" y2="322" stroke="#d42a1c" stroke-width="4.2" />
<text x="185.5" y="325.7" font-size="11.4" font-weight="bold" fill="#111" text-anchor="start" textLength="32.5" lengthAdjust="spacingAndGlyphs" >PDCD2</text>
<polyline points="85.0,393.5 95.0,393.0 104.0,391.5 110.0,391.0 117.0,389.5 120.0,388.5 122.0,386.5 123.0,380.0 124.0,365.0 125.0,350.0 126.0,333.0 127.0,310.0 127.7,283.0 129.5,290.0 131.5,310.0 133.0,330.0 134.5,344.0 136.0,351.5 140.0,354.0 145.0,355.5 150.0,357.0 155.0,359.0 160.0,359.5 163.0,357.0 166.5,355.0 170.0,357.0 173.0,362.0 176.0,372.0 179.0,385.0 182.0,391.0 186.0,393.0 200.0,392.5 225.0,392.5 238.0,393.5" fill="none" stroke="#4bb81e" stroke-width="3.6" stroke-linejoin="round" stroke-linecap="round" />
<polyline points="85.0,393.5 95.0,393.0 100.0,391.5 104.0,391.5 110.0,391.0 117.0,389.5 120.0,388.5 122.0,386.5 123.0,380.0 124.0,365.0 125.0,350.0 126.0,333.0 127.3,312.0 128.8,295.0 130.6,287.3 131.3,300.0 131.6,335.0 132.5,355.0 134.5,367.5 139.2,372.3 144.0,372.5 148.7,373.0 153.5,376.0 158.2,376.0 163.0,368.0 166.8,361.5 168.5,363.0 171.5,372.0 175.3,385.0 179.1,392.5 182.0,394.0 238.0,394.0" fill="none" stroke="#1d14e6" stroke-width="3.4" stroke-linejoin="round" stroke-linecap="round" />
<polyline points="85.0,393.5 95.0,393.0 104.0,391.5 110.0,391.0 117.0,389.5 120.0,388.5 122.0,386.5 123.0,380.0 124.0,365.0 125.0,350.0 126.0,333.0 127.2,312.0 128.5,298.0 129.7,290.8 131.5,305.0 132.5,320.0 133.2,335.0 134.2,348.0 135.4,355.2 140.0,358.5 145.0,360.5 150.0,363.5 155.0,365.5 160.0,366.5 163.0,362.0 166.0,358.5 170.0,361.0 173.0,368.0 176.0,378.0 179.0,388.0 182.0,393.5 225.0,393.5 238.0,393.8" fill="none" stroke="#d42a1c" stroke-width="3.6" stroke-linejoin="round" stroke-linecap="round" />
<polyline points="83.4,577.3 95.0,577.0 100.0,575.5 110.0,575.5 118.9,575.0 122.0,573.5 124.8,570.0 126.5,562.0 128.0,545.0 129.0,525.0 130.0,505.0 131.0,488.0 132.3,477.0 133.3,474.0 134.3,478.0 135.3,492.0 136.5,510.0 137.5,525.0 138.3,545.0 139.3,557.0 141.0,562.5 142.0,565.5 145.6,565.0 154.0,562.0 161.0,557.0 165.7,550.0 169.4,540.0 171.2,528.0 173.6,515.0 176.5,500.0 178.5,493.0 180.6,490.6 182.5,497.0 184.4,510.0 187.1,525.0 189.4,550.0 192.2,565.0 194.1,570.0 197.0,571.5 205.0,572.5 215.0,573.0 220.0,573.5 226.0,576.0 232.5,577.3" fill="none" stroke="#4bb81e" stroke-width="3.0" stroke-linejoin="round" stroke-linecap="round" />
<polyline points="83.4,577.3 94.8,577.0 97.0,573.5 100.7,571.6 104.0,572.5 108.0,573.5 113.0,572.5 116.9,570.0 119.5,566.0 121.8,560.0 123.3,545.0 124.3,520.0 125.3,500.0 126.5,485.0 127.7,474.0 129.0,472.0 130.0,477.0 130.6,495.0 130.8,520.0 131.2,545.0 132.6,560.0 134.0,564.5 135.6,565.7 138.0,565.5 140.0,565.1 143.7,563.5 149.3,558.0 154.0,550.0 158.2,540.0 161.8,528.0 163.8,510.0 165.7,495.0 168.2,485.0 170.1,480.3 171.2,484.0 172.1,490.0 173.6,505.0 175.0,525.0 176.8,540.0 177.8,560.0 180.1,570.0 183.8,575.0 190.0,575.3 232.5,575.5" fill="none" stroke="#1d14e6" stroke-width="3.0" stroke-linejoin="round" stroke-linecap="round" />
<polyline points="83.4,577.3 94.0,577.0 96.0,574.0 100.0,573.0 105.0,573.5 110.0,573.5 116.0,573.0 122.3,570.0 125.3,560.0 126.7,545.0 127.7,520.0 129.5,500.0 130.3,485.0 131.0,474.0 131.7,469.0 132.8,470.5 133.7,478.0 134.5,490.0 135.6,505.0 136.5,520.0 137.5,545.0 138.5,555.0 139.5,560.0 141.5,562.5 143.7,563.7 145.6,563.0 150.3,560.0 154.9,555.0 161.0,550.0 164.7,540.0 167.0,529.0 170.1,515.0 172.6,500.0 174.0,493.0 176.0,492.6 178.5,494.0 180.0,500.0 182.4,515.0 183.8,525.0 186.6,550.0 189.0,565.0 191.8,571.0 195.0,572.5 200.0,572.5 210.0,573.4 214.6,573.4 216.5,572.0 220.0,573.0 223.0,575.0 226.4,577.0 232.5,577.3" fill="none" stroke="#d42a1c" stroke-width="3.0" stroke-linejoin="round" stroke-linecap="round" />
</svg>
</body></html>
